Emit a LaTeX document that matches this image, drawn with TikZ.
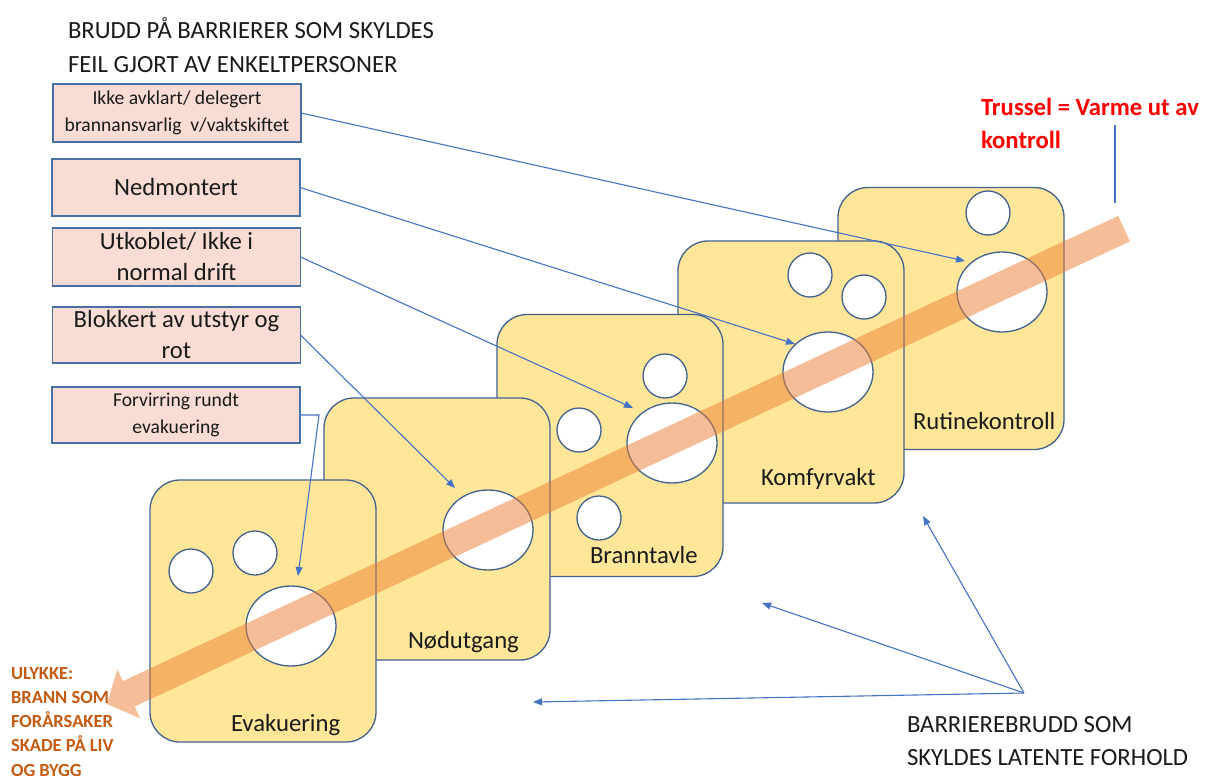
\documentclass[tikz,border=0pt]{standalone}
\usepackage{fontspec}
\setmainfont{Carlito}
\usetikzlibrary{arrows.meta}

\definecolor{slicefill}{HTML}{FFE699}
\definecolor{sliceline}{HTML}{41618F}
\definecolor{boxfill}{HTML}{F9DCD4}
\definecolor{boxline}{HTML}{4A6FA5}
\definecolor{linkblue}{HTML}{4472C4}
\definecolor{flame}{HTML}{ED7D31}
\definecolor{alert}{HTML}{FF0000}
\definecolor{harm}{HTML}{C55A11}
\definecolor{ink}{HTML}{1A1A1A}

\begin{document}
\begin{tikzpicture}[x=1pt,y=-1pt,
  every node/.style={inner sep=0pt, outer sep=0pt, text=ink},
  slice/.style={draw=sliceline, fill=slicefill, line width=1.3pt,
    rounded corners=30pt, minimum width=226pt, minimum height=262pt},
  hole/.style={draw=sliceline, fill=white, line width=1.3pt},
  slicelabel/.style={anchor=base west, font=\fontsize{24.7}{29}\selectfont},
  cause/.style={draw=boxline, fill=boxfill, line width=1.1pt,
    minimum width=248pt, align=center},
  bigcause/.style={cause, font=\fontsize{24.7}{31}\selectfont},
  smallcause/.style={cause, font=\fontsize{19.6}{27}\selectfont},
  link/.style={draw=linkblue, line width=1.1pt, -{Triangle[length=9pt,width=7pt]}},
  plainlink/.style={draw=linkblue, line width=1.1pt},
]
\useasboundingbox (0,0) rectangle (1205,776);

% --- barrier slices, back to front ---
\node[slice] (s5) at (951,318.5) {};
\draw[hole] (988,213) circle [radius=22pt];
\draw[hole] (1002,292) ellipse [x radius=45pt, y radius=40pt];
\node[slicelabel] (l5) at (913,429) {Rutinekontroll};

\node[slice] (s4) at (791,372) {};
\draw[hole] (810,275) circle [radius=22pt];
\draw[hole] (864,297) circle [radius=22pt];
\draw[hole] (828,372) ellipse [x radius=45pt, y radius=40pt];
\node[slicelabel] (l4) at (761,485) {Komfyrvakt};

\node[slice] (s3) at (610,445.5) {};
\draw[hole] (665,376) circle [radius=22pt];
\draw[hole] (579,430) circle [radius=22pt];
\draw[hole] (599,518) circle [radius=22pt];
\draw[hole] (672,443) ellipse [x radius=45pt, y radius=40pt];
\node[slicelabel] (l3) at (590,563) {Branntavle};

\node[slice] (s2) at (437,529) {};
\draw[hole] (488,530) ellipse [x radius=45pt, y radius=40pt];
\node[slicelabel] (l2) at (408,648) {Nødutgang};

\node[slice] (s1) at (263,611) {};
\draw[hole] (191,571) circle [radius=22pt];
\draw[hole] (255,553) circle [radius=22pt];
\draw[hole] (291,626) ellipse [x radius=45pt, y radius=40pt];
\node[slicelabel] (l1) at (231,731) {Evakuering};

% --- threat trajectory: translucent arrow through the holes ---
\begin{scope}[shift={(107,704)}, rotate=25.05]
  \fill[flame, fill opacity=0.5]
    (0,0) -- (24,27) -- (24,14) -- (1122.7,14) -- (1122.7,-14)
    -- (24,-14) -- (24,-27) -- cycle;
\end{scope}

% --- headings (base anchor sits on the last line) ---
\node[anchor=base west, align=left, font=\fontsize{24.7}{34}\selectfont] (head) at (68,73)
  {BRUDD PÅ BARRIERER SOM SKYLDES\\FEIL GJORT AV ENKELTPERSONER};
\node[anchor=base west, align=left, text=alert, font=\bfseries\fontsize{24.7}{33}\selectfont] (threat) at (981,148)
  {Trussel = Varme ut av\\kontroll};
\node[anchor=base west, align=left, text=harm, font=\bfseries\fontsize{18.5}{24.3}\selectfont] (accident) at (11,776.2)
  {ULYKKE:\\BRANN SOM\\FORÅRSAKER\\SKADE PÅ LIV\\OG BYGG};
\node[anchor=base west, align=left, font=\fontsize{24.7}{33}\selectfont] (latent) at (907,765)
  {BARRIEREBRUDD SOM\\SKYLDES LATENTE FORHOLD};

% --- individual failures ---
\node[smallcause, minimum height=58pt] (b1) at (177,113) {Ikke avklart/ delegert\\brannansvarlig~ v/vaktskiftet};
\node[bigcause, minimum height=57pt] (b2) at (176,187.5) {Nedmontert};
\node[bigcause, minimum height=58pt] (b3) at (176.5,257) {Utkoblet/ Ikke i\\normal drift};
\node[bigcause, minimum height=56pt] (b4) at (176.5,335) {Blokkert av utstyr og\\rot};
\node[smallcause, minimum height=56pt] (b5) at (176,415) {Forvirring rundt\\evakuering};

% --- connector end points ---
\coordinate (t1) at (965,261);
\coordinate (t2) at (795,344);
\coordinate (t3) at (633,408);
\coordinate (t4) at (455,488);
\coordinate (bend5) at (319,415);
\coordinate (t5) at (298,576);
\coordinate (threattop) at (1115,125);
\coordinate (threatbot) at (1115,203);
\coordinate (latentsrc) at (1024,693);
\coordinate (u1) at (923,516);
\coordinate (u2) at (762,603);
\coordinate (u3) at (533,702);

\draw[link] (b1.east) -- (t1);
\draw[link] (b2.east) -- (t2);
\draw[link] (b3.east) -- (t3);
\draw[link] (b4.east) -- (t4);
\draw[link] (b5.east) -- (bend5) -- (t5);
\draw[plainlink] (threattop) -- (threatbot);
\draw[link] (latentsrc) -- (u1);
\draw[link] (latentsrc) -- (u2);
\draw[link] (latentsrc) -- (u3);
\end{tikzpicture}
\end{document}
